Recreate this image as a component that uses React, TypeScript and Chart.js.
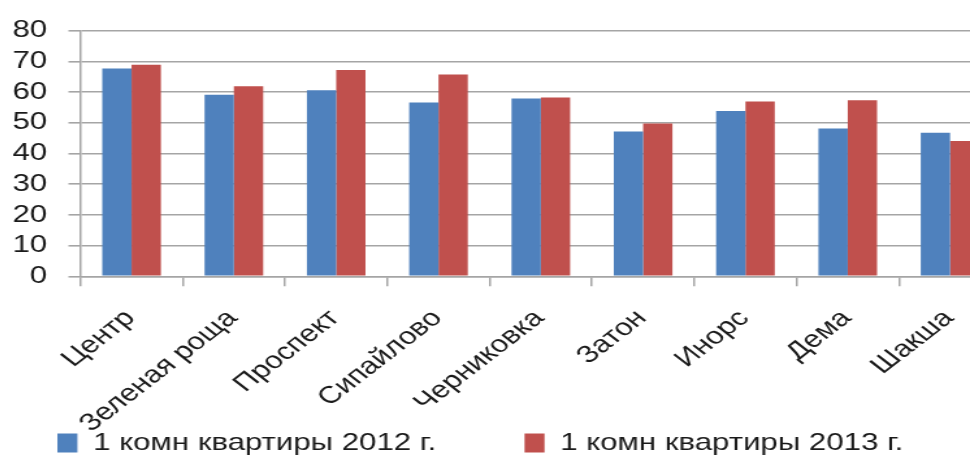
import React, { useEffect, useRef } from "react";
import { Chart, registerables } from "chart.js";

Chart.register(...registerables);

const categories = [
  "Центр",
  "Зеленая роща",
  "Проспект",
  "Сипайлово",
  "Черниковка",
  "Затон",
  "Инорс",
  "Дема",
  "Шакша",
];
const series2012 = [67.7, 59.2, 60.6, 56.6, 57.9, 47.2, 53.9, 48.2, 46.8];
const series2013 = [68.9, 61.9, 67.2, 65.8, 58.3, 49.8, 57.0, 57.4, 44.1];
const label2012 = "1 комн квартиры 2012 г.";
const label2013 = "1 комн квартиры 2013 г.";

const STRETCH = 1.3;
const LOGICAL_W = 830;
const LOGICAL_H = 465;
const FONT = "'Liberation Sans', Arial, sans-serif";

export default function App() {
  const ref = useRef<HTMLCanvasElement | null>(null);

  useEffect(() => {
    if (!ref.current) return;
    const chart = new Chart(ref.current, {
      type: "bar",
      data: {
        labels: categories,
        datasets: [
          { label: label2012, data: series2012, backgroundColor: "#4F81BD", borderWidth: 0 },
          { label: label2013, data: series2013, backgroundColor: "#C0504D", borderWidth: 0 },
        ],
      },
      options: {
        responsive: false,
        animation: false,
        devicePixelRatio: 1,
        layout: { padding: { top: 20.6, left: 0, right: 36, bottom: 0 } },
        datasets: { bar: { barPercentage: 1, categoryPercentage: 0.573 } },
        plugins: {
          tooltip: { enabled: false },
          legend: {
            position: "bottom",
            align: "start",
            labels: {
              boxWidth: 15.4,
              boxHeight: 19,
              padding: 68,
              color: "#1a1a1a",
              font: { family: FONT, size: 24 },
            },
          },
        },
        scales: {
          x: {
            grid: { drawOnChartArea: false, drawTicks: true, tickLength: 10, color: "#a5a5a5", lineWidth: 1.5 },
            border: { color: "#a5a5a5", width: 1.5 },
            ticks: {
              autoSkip: false,
              minRotation: 45,
              maxRotation: 45,
              padding: 18,
              labelOffset: -1,
              color: "#1a1a1a",
              font: { family: FONT, size: 24 },
            },
            afterFit: (scale: any) => {
              scale.height = 86.7;
              // let the rotated labels run below the axis box, as in the original
              scale._computeLabelArea = () => undefined;
            },
          },
          y: {
            min: 0,
            max: 80,
            grid: { color: "#a5a5a5", lineWidth: 1.6, tickLength: 9.2, drawTicks: true },
            border: { color: "#a5a5a5", width: 1.5 },
            ticks: {
              stepSize: 10,
              autoSkip: false,
              padding: 16.4,
              color: "#1a1a1a",
              font: { family: FONT, size: 24 },
            },
            afterFit: (scale: any) => { scale.width = 85.7; },
          },
        },
      },
    });
    return () => chart.destroy();
  }, []);

  return (
    <div style={{ position: "fixed", left: 0, top: 0, width: 970, height: 456, overflow: "hidden", background: "#fff" }}>
      <canvas
        ref={ref}
        width={LOGICAL_W}
        height={LOGICAL_H}
        style={{ position: "absolute", left: -31.4, top: 0, width: LOGICAL_W * STRETCH, height: LOGICAL_H }}
      />
    </div>
  );
}
